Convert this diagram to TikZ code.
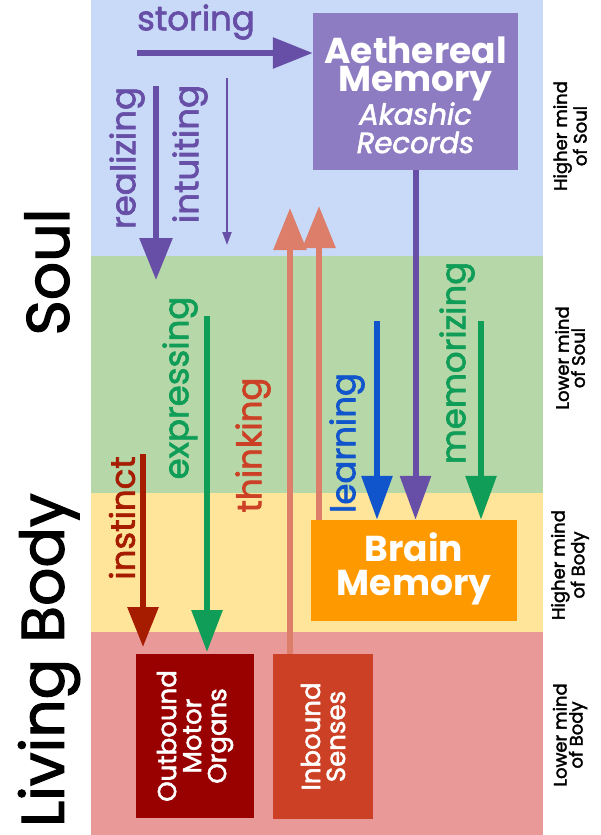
\documentclass[tikz,border=0pt]{standalone}
\usepackage{fontspec}
\setmainfont{Poppins}
\newfontfamily\mfont{Poppins}[FakeBold=2]
\usetikzlibrary{arrows.meta}
\definecolor{bandblue}{HTML}{C9DAF8}
\definecolor{bandgreen}{HTML}{B6D7A8}
\definecolor{bandyellow}{HTML}{FFE599}
\definecolor{bandred}{HTML}{EA9999}
\definecolor{aethc}{HTML}{8E7CC3}
\definecolor{purp}{HTML}{674EA7}
\definecolor{brainc}{HTML}{FF9900}
\definecolor{outc}{HTML}{990000}
\definecolor{inc}{HTML}{CC4125}
\definecolor{salmon}{HTML}{DD7E6B}
\definecolor{instc}{HTML}{A61C00}
\definecolor{grn}{HTML}{0F9D58}
\definecolor{blu}{HTML}{1155CC}
\tikzset{
  box/.style={draw=none, inner sep=0pt, text=white, align=center},
  lbl/.style={inner sep=0pt, font=\mfont\fontsize{34}{36}\selectfont},
  vlbl/.style={lbl, rotate=90},
  side/.style={inner sep=0pt, rotate=90, align=center, font=\mfont\fontsize{18}{16}\selectfont},
  big/.style={inner sep=0pt, rotate=90, font=\mfont\fontsize{60}{60}\selectfont},
  fat/.style={line width=6pt, -{Triangle[width=32pt,length=42pt]}},
}
\begin{document}
\begin{tikzpicture}[x=1pt,y=-1pt]
\useasboundingbox (0,0) rectangle (600,835);
\fill[white] (0,0) rectangle (600,835);
\fill[bandblue] (91,0) rectangle (543,256);
\fill[bandgreen] (91,256) rectangle (543,493);
\fill[bandyellow] (91,493) rectangle (543,632);
\fill[bandred] (91,632) rectangle (543,835);

% boxes
\node[box, fill=aethc, minimum width=205pt, minimum height=157pt] (aeth) at (415.5,91.5) {};
\node[box, font=\fontsize{36}{28.5}\selectfont] (aetht) at (415.5,95)
  {{\bfseries Aethereal}\\{\bfseries Memory}\\{\mfont\itshape\fontsize{29}{28.5}\selectfont Akashic}\\{\mfont\itshape\fontsize{29}{28.5}\selectfont Records}};
\node[box, fill=brainc, minimum width=206pt, minimum height=101pt] (brain) at (414,570.5) {};
\node[box, font=\bfseries\fontsize{36}{34}\selectfont] (braint) at (414,569) {Brain\\Memory};
\node[box, fill=outc, minimum width=118pt, minimum height=164pt] (outb) at (195,736) {};
\node[box, rotate=90, font=\mfont\fontsize{26}{25}\selectfont] (outt) at (195,736) {Outbound\\Motor\\Organs};
\node[box, fill=inc, minimum width=100pt, minimum height=165pt] (inb) at (323,736.5) {};
\node[box, rotate=90, font=\mfont\fontsize{26}{25}\selectfont] (inbt) at (323,736.5) {Inbound\\Senses};

% connectors
\coordinate (s0) at (137,53);
\draw[fat, purp, -{Triangle[width=30pt,length=40pt]}] (s0) -- (s0 -| aeth.west);
\coordinate (r0) at (156,86);
\coordinate (r1) at (156,280);
\draw[fat, purp] (r0) -- (r1);
\coordinate (i0) at (227,78);
\coordinate (i1) at (227,245);
\draw[purp, line width=2pt, -{Triangle[width=9pt,length=13pt]}] (i0) -- (i1);
\coordinate (t1) at (290,208);
\draw[fat, salmon] (t1 |- inb.north) -- (t1);
\coordinate (t2) at (319,206);
\draw[fat, salmon] (t2 |- brain.north) -- (t2);
\draw[fat, purp, -{Triangle[width=30pt,length=44pt]}] (aeth.south) -- (aeth.south |- brain.north);
\coordinate (l0) at (377,321);
\draw[fat, blu, -{Triangle[width=30pt,length=44pt]}] (l0) -- (l0 |- brain.north);
\coordinate (m0) at (481,321);
\draw[fat, grn, -{Triangle[width=30pt,length=44pt]}] (m0) -- (m0 |- brain.north);
\coordinate (n0) at (143,454);
\coordinate (n1) at (143,647);
\draw[fat, instc, -{Triangle[width=30pt,length=40pt]}] (n0) -- (n1);
\coordinate (e0) at (207,316);
\coordinate (e1) at (207,652);
\draw[fat, grn, -{Triangle[width=30pt,length=42pt]}] (e0) -- (e1);

% labels
\node[lbl, text=purp] (storing) at (196,22) {storing};
\node[vlbl, text=purp] (realizing) at (127,158) {realizing};
\node[vlbl, text=purp] (intuiting) at (190,154) {intuiting};
\node[vlbl, text=grn] (expressing) at (180,388) {expressing};
\node[vlbl, text=inc] (thinking) at (253,445) {thinking};
\node[vlbl, text=blu] (learning) at (347,443) {learning};
\node[vlbl, text=grn] (memorizing) at (457,363) {memorizing};
\node[vlbl, text=instc] (instinct) at (122,518) {instinct};

% left titles
\node[big] (soul) at (47,272) {Soul};
\node[big] (body) at (49,660) {Living Body};

% right titles
\node[side] (hs) at (570,136) {Higher mind\\of Soul};
\node[side] (ls) at (570,358) {Lower mind\\of Soul};
\node[side] (hb) at (570,565) {Higher mind\\of Body};
\node[side] (lb) at (570,735) {Lower mind\\of Body};
\end{tikzpicture}
\end{document}
